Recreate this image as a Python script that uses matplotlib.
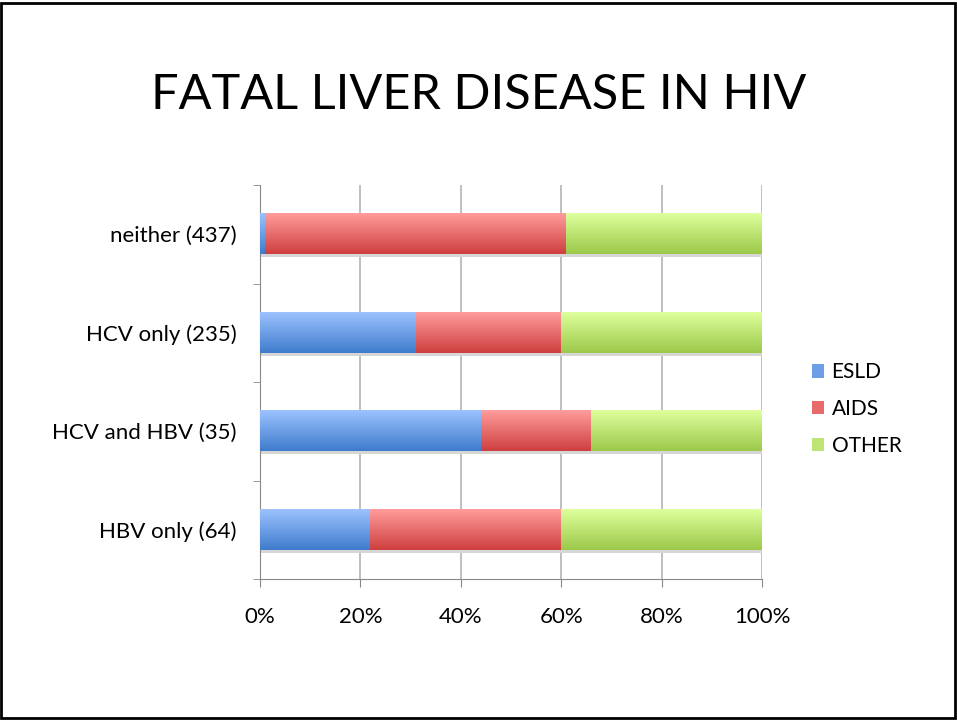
import numpy as np
import matplotlib.pyplot as plt
from matplotlib.patches import Patch, Rectangle

categories = ["HBV only (64)", "HCV and HBV (35)", "HCV only (235)", "neither (437)"]
esld = [22, 44, 31, 1]
aids = [38, 22, 29, 60]
other = [40, 34, 40, 39]
series_names = ["ESLD", "AIDS", "OTHER"]
xtick_labels = ["0%", "20%", "40%", "60%", "80%", "100%"]

# gradient colours (top, bottom) for each series
grads = [("#9cc2ff", "#3f7ccc"), ("#ff9c9c", "#cf3f3f"), ("#deff9c", "#9cc94a")]
mids = ["#6d9fe6", "#e86a6a", "#bde474"]

plt.rcParams['font.family'] = ['Lato', 'DejaVu Sans']

fig = plt.figure(figsize=(9.57, 7.2), dpi=100)
ax = fig.add_axes([260/957, 141/720, 502/957, 394/720])

y = np.arange(len(categories))
h = 0.41

def gradient_bar(ax, left, width, yc, c_top, c_bot):
    top = np.array(plt.matplotlib.colors.to_rgb(c_top))
    bot = np.array(plt.matplotlib.colors.to_rgb(c_bot))
    t = np.linspace(0, 1, 64)[:, None]
    img = (top * (1 - t) + bot * t)[:, None, :]
    ax.imshow(img, extent=[left, left + width, yc - h/2, yc + h/2],
              aspect='auto', origin='upper', zorder=3, interpolation='bilinear')

# shadows
totals = [a + b + c for a, b, c in zip(esld, aids, other)]
ax.barh(y - 0.03, totals, height=h, left=0, color="#d6d6d6", zorder=2)

left = np.zeros(len(categories))
for vals, (ct, cb) in zip([esld, aids, other], grads):
    for i, v in enumerate(vals):
        gradient_bar(ax, left[i], v, y[i], ct, cb)
    left += np.array(vals)

ax.set_xlim(0, 100)
ax.set_ylim(-0.5, 3.5)

ax.set_xticks([0, 20, 40, 60, 80, 100])
ax.set_xticklabels(xtick_labels, fontsize=16)
ax.set_yticks(y)
ax.set_yticklabels(categories, fontsize=16)
ax.set_yticks([-0.5, 0.5, 1.5, 2.5, 3.5], minor=True)
ax.tick_params(axis='y', which='major', length=0, pad=17)
ax.tick_params(axis='y', which='minor', length=5, color="#888888")
ax.tick_params(axis='x', length=6, color="#888888", pad=14)
ax.xaxis.grid(True, color="#b4b4b4", linewidth=1.2, zorder=0)
ax.set_axisbelow(True)

for s in ['top', 'right']:
    ax.spines[s].set_visible(False)
ax.spines['left'].set_color("#888888")
ax.spines['bottom'].set_color("#888888")

handles = [Patch(facecolor=c, edgecolor='none') for c in mids]
fig.legend(handles, series_names, loc='center left', bbox_to_anchor=(793/957, 1 - 409/720),
           frameon=False, fontsize=15, handlelength=0.6, handleheight=0.6,
           handletextpad=0.35, labelspacing=0.8)

fig.text(0.5, 1 - 95/720, "FATAL LIVER DISEASE IN HIV", ha='center', va='center', fontsize=35)

fig.patches.append(Rectangle((1/957, 2/720), 954/957, 715/720, transform=fig.transFigure,
                             fill=False, edgecolor='black', linewidth=2))

fig.savefig("out.png", dpi=100)
